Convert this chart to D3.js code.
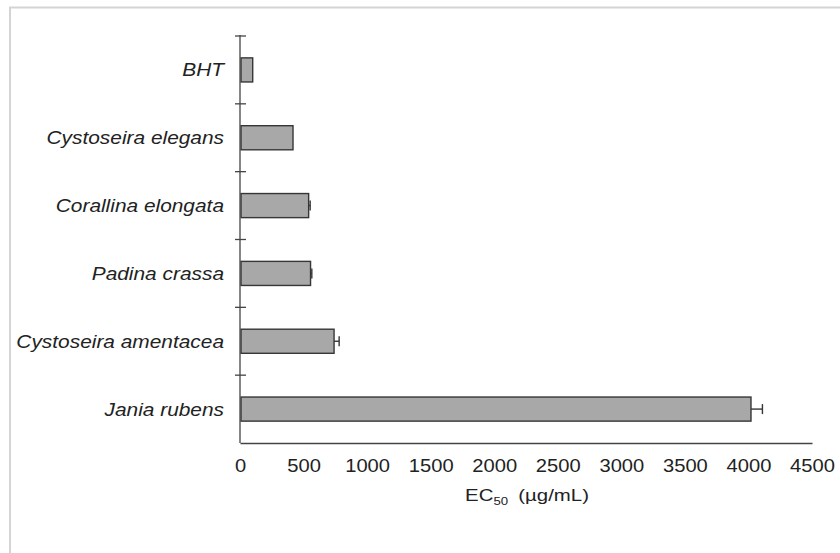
<!DOCTYPE html>
<html>
<head>
<meta charset="utf-8">
<script src="https://cdn.jsdelivr.net/npm/d3@7"></script>
<style>
  html, body { margin: 0; padding: 0; background: #fff; }
  svg { display: block; }
</style>
</head>
<body>
<svg id="chart" width="840" height="553"></svg>
<script>
// Species, top to bottom
const species = ["BHT", "Cystoseira elegans", "Corallina elongata", "Padina crassa", "Cystoseira amentacea", "Jania rubens"];
// EC50 values (µg/mL) and their standard deviations
const ec50 = [100, 417, 540, 555, 740, 4020];
const ec50Err = [0, 0, 12, 10, 40, 90];
// x axis tick values
const xTicks = [0, 500, 1000, 1500, 2000, 2500, 3000, 3500, 4000, 4500];

const rows = species.map((s, i) => ({ name: s, value: ec50[i], err: ec50Err[i] }));

const svg = d3.select("#chart");
const W = 840, H = 553;
const plotLeft = 240, plotRight = 812, plotTop = 36, plotBottom = 443;
const font = "Liberation Sans, Arial, sans-serif";

// faint frame along the top and left edges
svg.append("line").attr("x1", 9).attr("x2", W).attr("y1", 7.5).attr("y2", 7.5)
  .attr("stroke", "#d4d4d4").attr("stroke-width", 2);
svg.append("line").attr("x1", 10).attr("x2", 10).attr("y1", 7).attr("y2", H)
  .attr("stroke", "#d4d4d4").attr("stroke-width", 2);

const x = d3.scaleLinear().domain([0, 4500]).range([plotLeft, plotRight]);
const y = d3.scaleBand().domain(species).range([plotTop, plotBottom]).padding(0);
const barH = y.bandwidth() * 0.355;

const axisColor = "#444";

// bars
svg.append("g").selectAll("rect").data(rows).join("rect")
  .attr("x", x(0) + 1)
  .attr("y", d => y(d.name) + (y.bandwidth() - barH) / 2)
  .attr("width", d => x(d.value) - x(0) - 1)
  .attr("height", barH)
  .attr("fill", "#a8a8a8")
  .attr("stroke", "#363636")
  .attr("stroke-width", 1.4);

// error bars (upper side only)
const eb = svg.append("g").attr("stroke", "#363636").attr("stroke-width", 1.4);
rows.filter(d => d.err > 0).forEach(d => {
  const cy = y(d.name) + y.bandwidth() / 2;
  eb.append("line").attr("x1", x(d.value)).attr("x2", x(d.value + d.err))
    .attr("y1", cy).attr("y2", cy);
  eb.append("line").attr("x1", x(d.value + d.err)).attr("x2", x(d.value + d.err))
    .attr("y1", cy - 5).attr("y2", cy + 5);
});

// y axis: line with ticks at category boundaries, crossing the axis
const yAxis = svg.append("g");
yAxis.append("line").attr("x1", plotLeft).attr("x2", plotLeft).attr("y1", plotTop - 1).attr("y2", plotBottom)
  .attr("stroke", axisColor).attr("stroke-width", 1.3);
const bounds = species.map(s => y(s));
yAxis.selectAll("line.tick").data(bounds).join("line").attr("class", "tick")
  .attr("x1", plotLeft - 5).attr("x2", plotLeft + 6)
  .attr("y1", d => d).attr("y2", d => d)
  .attr("stroke", axisColor).attr("stroke-width", 1.3);

// category labels (slightly wide lettering)
svg.append("g").selectAll("text").data(rows).join("text")
  .attr("transform", d => `translate(224,${y(d.name) + y.bandwidth() / 2}) scale(1.16,1)`)
  .attr("dy", "0.36em")
  .attr("text-anchor", "end")
  .attr("font-family", font)
  .attr("font-style", "italic")
  .attr("font-size", 18)
  .attr("fill", "#222")
  .text(d => d.name);

// x axis
const xAxis = svg.append("g").attr("transform", `translate(0,${plotBottom})`)
  .call(d3.axisBottom(x).tickValues(xTicks).tickSize(0).tickPadding(16).tickFormat(d3.format("d")));
xAxis.select(".domain").attr("stroke", axisColor).attr("stroke-width", 1.3);
xAxis.selectAll("text")
  .attr("transform", "scale(1.12,1)")
  .attr("font-family", font)
  .attr("font-size", 18)
  .attr("fill", "#222");

// x axis title
const title = svg.append("text")
  .attr("transform", "translate(527,501) scale(1.2,1)")
  .attr("text-anchor", "middle")
  .attr("font-family", font)
  .attr("font-size", 17)
  .attr("fill", "#222");
title.append("tspan").text("EC");
title.append("tspan").attr("font-size", 11).attr("dy", 4).text("50");
title.append("tspan").attr("dy", -4).text("\u2002(µg/mL)");
</script>
</body>
</html>
